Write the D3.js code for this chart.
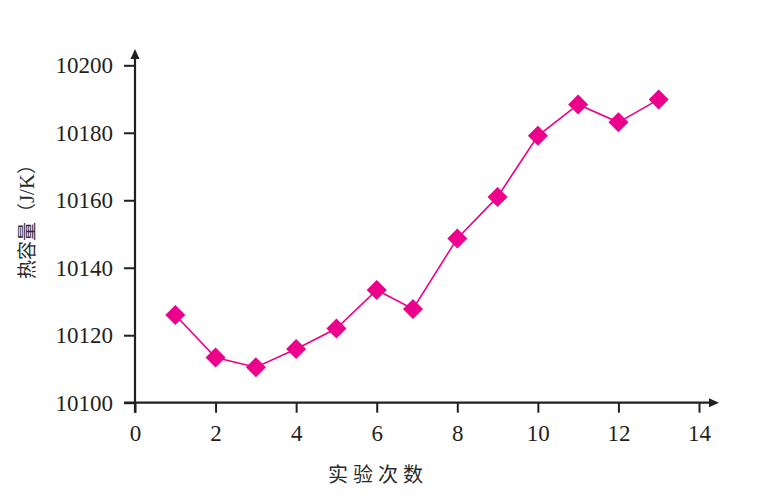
<!DOCTYPE html>
<html>
<head>
<meta charset="utf-8">
<script src="https://cdn.jsdelivr.net/npm/d3@7/dist/d3.min.js"></script>
<style>
  html, body { margin: 0; padding: 0; background: #fff; }
  svg { display: block; }
</style>
</head>
<body>
<svg id="chart" width="757" height="497"></svg>
<script>
// Data
const trials = [1, 2, 3, 4, 5, 6, 6.9, 8, 9, 10, 11, 12, 13];
const heatCapacity = [10126.0, 10113.4, 10110.5, 10115.9, 10122.0, 10133.4, 10127.8, 10148.7, 10161.0, 10179.1, 10188.4, 10183.1, 10189.9];
const xTicks = [0, 2, 4, 6, 8, 10, 12, 14];
const yTicks = [10100, 10120, 10140, 10160, 10180, 10200];
const xTitle = "实验次数";
const yTitleParts = ["热容量（", "J/K", "）"];

const svg = d3.select("#chart");
const axisColor = "#231f20";
const markColor = "#ec008c";
const serif = "'Liberation Serif', 'Times New Roman', serif";
const cjk = "'Noto Sans CJK SC', sans-serif";

const x = d3.scaleLinear().domain([0, 14]).range([135, 699]);
const y = d3.scaleLinear().domain([10100, 10200]).range([402.7, 65.3]);

// Y axis
const yAxis = svg.append("g")
  .attr("transform", `translate(${x(0)},0)`)
  .call(d3.axisLeft(y).tickValues(yTicks).tickSize(11).tickSizeOuter(0).tickPadding(11).tickFormat(d3.format("d")));
yAxis.select(".domain").remove();
yAxis.selectAll(".tick line").attr("stroke", axisColor).attr("stroke-width", 2);
yAxis.selectAll(".tick text").attr("fill", axisColor).style("font-family", serif).style("font-size", "23px");

// X axis
const xAxis = svg.append("g")
  .attr("transform", `translate(0,${y(10100)})`)
  .call(d3.axisBottom(x).tickValues(xTicks).tickSize(10).tickSizeOuter(0).tickPadding(12).tickFormat(d3.format("d")));
xAxis.select(".domain").remove();
xAxis.selectAll(".tick line").attr("stroke", axisColor).attr("stroke-width", 2);
xAxis.selectAll(".tick text").attr("fill", axisColor).style("font-family", serif).style("font-size", "23px");

// Axis lines with arrows
const x0 = x(0), y0 = y(10100);
svg.append("line").attr("x1", x0).attr("x2", x0).attr("y1", y0 + 10).attr("y2", 58)
  .attr("stroke", axisColor).attr("stroke-width", 2.2);
svg.append("line").attr("x1", x0 - 11).attr("x2", 710).attr("y1", y0).attr("y2", y0)
  .attr("stroke", axisColor).attr("stroke-width", 2.2);
svg.append("path").attr("d", `M${x0},49 L${x0 - 4.5},59 L${x0 + 4.5},59 Z`).attr("fill", axisColor);
svg.append("path").attr("d", `M719,${y0} L709,${y0 - 4.5} L709,${y0 + 4.5} Z`).attr("fill", axisColor);

// Line
const pts = trials.map((t, i) => [t, heatCapacity[i]]);
svg.append("path")
  .datum(pts)
  .attr("fill", "none")
  .attr("stroke", markColor)
  .attr("stroke-width", 1.6)
  .attr("d", d3.line().x(d => x(d[0])).y(d => y(d[1])));

// Diamond markers
const r = 10;
svg.selectAll(".marker")
  .data(pts)
  .join("path")
  .attr("class", "marker")
  .attr("fill", markColor)
  .attr("d", d => {
    const cx = x(d[0]), cy = y(d[1]);
    return `M${cx},${cy - r} L${cx + r},${cy} L${cx},${cy + r} L${cx - r},${cy} Z`;
  });

// Axis titles
svg.append("text")
  .attr("x", 378)
  .attr("y", 482)
  .attr("text-anchor", "middle")
  .attr("fill", "#2a2a2a")
  .style("font-family", cjk)
  .style("font-size", "20px")
  .style("letter-spacing", "5px")
  .text(xTitle);

const yt = svg.append("text")
  .attr("transform", "translate(34,217) rotate(-90)")
  .attr("text-anchor", "middle")
  .attr("fill", "#2a2a2a")
  .style("font-size", "19px");
yt.append("tspan").style("font-family", cjk).text(yTitleParts[0]);
yt.append("tspan").style("font-family", serif).style("font-size", "21px").text(yTitleParts[1]);
yt.append("tspan").style("font-family", cjk).text(yTitleParts[2]);
</script>
</body>
</html>
